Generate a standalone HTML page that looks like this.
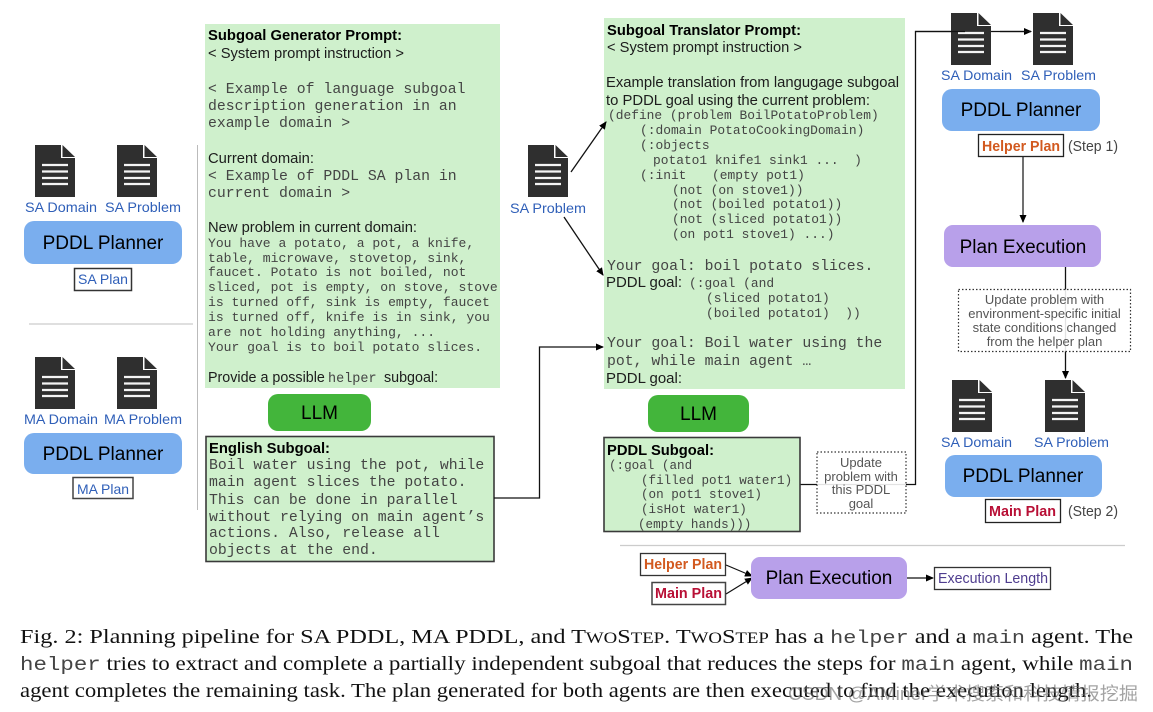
<!DOCTYPE html>
<html>
<head>
<meta charset="utf-8">
<style>
html,body{margin:0;padding:0;background:#fff;width:1153px;height:712px;overflow:hidden}
svg{display:block}
text{font-family:"Liberation Sans",sans-serif;fill:#1c1c1c;white-space:pre}
.m{font-family:"Liberation Mono",monospace;fill:#444}
.m1{font-size:14.8px}
.m2{font-size:12.9px}
.m3{font-size:13.05px}
.m4{font-size:12.6px}
.s{font-size:14.3px}
.b{font-size:14.3px;font-weight:bold;fill:#000}
.l{font-size:14px;fill:#2f5fb8}
.p{font-size:19px;fill:#000;text-anchor:middle}
.u{font-size:13px;fill:#555;text-anchor:middle}
.c{font-family:"Liberation Serif",serif;font-size:20px;fill:#111}
.cm{font-family:"Liberation Mono",monospace;font-size:19.5px;fill:#444}
.cm1{font-family:"Liberation Mono",monospace;font-size:18px;fill:#444}
.sc{font-size:15.5px}
</style>
</head>
<body>
<svg width="1153" height="712" viewBox="0 0 1153 712" xmlns="http://www.w3.org/2000/svg">
<defs>
<symbol id="doc" width="40" height="52" viewBox="0 0 40 52">
<path d="M0 0H26V13H40V52H0Z" fill="#2f2f2f"/>
<path d="M27.5 0L40 12H27.5Z" fill="#2f2f2f"/>
<path d="M7 20H33M7 26.500H33M7 33H33M7 39H33" stroke="#f4f4f4" stroke-width="2.200" fill="none"/>
</symbol>
<marker id="a" markerWidth="9" markerHeight="8" refX="7" refY="4" orient="auto" markerUnits="userSpaceOnUse"><path d="M0 0.500L8 4L0 7.500Z" fill="#000"/></marker>
</defs>

<!-- left column -->
<use href="#doc" x="35" y="145"/><use href="#doc" x="117" y="145"/>
<text class="l" x="25" y="212" textLength="72" lengthAdjust="spacingAndGlyphs">SA Domain</text>
<text class="l" x="105" y="212" textLength="76" lengthAdjust="spacingAndGlyphs">SA Problem</text>
<rect x="24" y="221" width="158" height="43" rx="10" fill="#7aaeee"/>
<text class="p" x="103" y="249">PDDL Planner</text>
<rect x="74.500" y="268.500" width="57" height="22" fill="#fff" stroke="#333" stroke-width="1.500"/>
<text class="l" x="78" y="284" textLength="50" lengthAdjust="spacingAndGlyphs">SA Plan</text>
<line x1="29" y1="324" x2="193" y2="324" stroke="#ccc" stroke-width="1.300"/>
<line x1="197.500" y1="145" x2="197.500" y2="510" stroke="#bbb" stroke-width="1"/>
<use href="#doc" x="35" y="357"/><use href="#doc" x="117" y="357"/>
<text class="l" x="24" y="424" textLength="74" lengthAdjust="spacingAndGlyphs">MA Domain</text>
<text class="l" x="104" y="424" textLength="78" lengthAdjust="spacingAndGlyphs">MA Problem</text>
<rect x="24" y="433" width="158" height="41" rx="10" fill="#7aaeee"/>
<text class="p" x="103" y="460">PDDL Planner</text>
<rect x="73" y="477.500" width="60" height="21" fill="#fff" stroke="#444" stroke-width="1.500"/>
<text class="l" x="77" y="494" textLength="52" lengthAdjust="spacingAndGlyphs">MA Plan</text>

<!-- generator prompt -->
<rect x="205" y="24" width="295" height="364" fill="#cff0cc"/>
<text class="b" x="208" y="40" textLength="194" lengthAdjust="spacingAndGlyphs">Subgoal Generator Prompt:</text>
<text class="s" x="208" y="58" textLength="196" lengthAdjust="spacingAndGlyphs">&lt; System prompt instruction &gt;</text>
<text class="m m1" x="208" y="93">&lt; Example of language subgoal</text>
<text class="m m1" x="208" y="110">description generation in an</text>
<text class="m m1" x="208" y="127">example domain &gt;</text>
<text class="s" x="208" y="163" textLength="106" lengthAdjust="spacingAndGlyphs">Current domain:</text>
<text class="m m1" x="208" y="180">&lt; Example of PDDL SA plan in</text>
<text class="m m1" x="208" y="197">current domain &gt;</text>
<text class="s" x="208" y="232" textLength="209" lengthAdjust="spacingAndGlyphs">New problem in current domain:</text>
<text class="m m3" x="208" y="247">You have a potato, a pot, a knife,</text>
<text class="m m3" x="208" y="262">table, microwave, stovetop, sink,</text>
<text class="m m3" x="208" y="276">faucet. Potato is not boiled, not</text>
<text class="m m3" x="208" y="291">sliced, pot is empty, on stove, stove</text>
<text class="m m3" x="208" y="306">is turned off, sink is empty, faucet</text>
<text class="m m3" x="208" y="321">is turned off, knife is in sink, you</text>
<text class="m m3" x="208" y="336">are not holding anything, ...</text>
<text class="m m3" x="208" y="351">Your goal is to boil potato slices.</text>
<text class="s" x="208" y="382">Provide a possible</text>
<text class="m" font-size="13.500" x="328" y="382">helper</text>
<text class="s" x="384" y="382">subgoal:</text>

<rect x="268" y="394" width="103" height="37" rx="10" fill="#43b53b"/>
<text class="p" x="319.500" y="419">LLM</text>

<rect x="206" y="436.500" width="288" height="125" fill="#cff0cc" stroke="#3a3a3a" stroke-width="1.600"/>
<text class="b" x="209" y="453" textLength="121" lengthAdjust="spacingAndGlyphs">English Subgoal:</text>
<text class="m m1" x="209" y="469">Boil water using the pot, while</text>
<text class="m m1" x="209" y="486">main agent slices the potato.</text>
<text class="m m1" x="209" y="504">This can be done in parallel</text>
<text class="m m1" x="209" y="521">without relying on main agent’s</text>
<text class="m m1" x="209" y="537">actions. Also, release all</text>
<text class="m m1" x="209" y="554">objects at the end.</text>

<path d="M494 498H539.500V347H603" fill="none" stroke="#111" stroke-width="1.300" marker-end="url(#a)"/>

<!-- SA problem -->
<use href="#doc" x="528" y="145"/>
<text class="l" x="510" y="213" textLength="76" lengthAdjust="spacingAndGlyphs">SA Problem</text>

<!-- translator prompt -->
<rect x="604" y="18" width="301" height="371" fill="#cff0cc"/>
<line x1="571" y1="172" x2="606" y2="122" stroke="#111" stroke-width="1.300" marker-end="url(#a)"/>
<line x1="564" y1="217" x2="603" y2="275" stroke="#111" stroke-width="1.300" marker-end="url(#a)"/>
<text class="b" x="607" y="35" textLength="194" lengthAdjust="spacingAndGlyphs">Subgoal Translator Prompt:</text>
<text class="s" x="607" y="52" textLength="195" lengthAdjust="spacingAndGlyphs">&lt; System prompt instruction &gt;</text>
<text class="s" x="606" y="87" textLength="293" lengthAdjust="spacingAndGlyphs">Example translation from langugage subgoal</text>
<text class="s" x="606" y="105" textLength="264" lengthAdjust="spacingAndGlyphs">to PDDL goal using the current problem:</text>
<text class="m m2" x="608" y="119">(define (problem BoilPotatoProblem)</text>
<text class="m m2" x="640" y="134">(:domain PotatoCookingDomain)</text>
<text class="m m2" x="640" y="149">(:objects</text>
<text class="m m2" x="653" y="164">potato1 knife1 sink1 ...  )</text>
<text class="m m2" x="640" y="179">(:init   </text>
<text class="m m2" x="712" y="179">(empty pot1)</text>
<text class="m m2" x="672" y="194">(not (on stove1))</text>
<text class="m m2" x="672" y="208">(not (boiled potato1))</text>
<text class="m m2" x="672" y="223">(not (sliced potato1))</text>
<text class="m m2" x="672" y="238">(on pot1 stove1) ...)</text>
<text class="m m1" x="607" y="270">Your goal: boil potato slices.</text>
<text class="s" x="606" y="287" textLength="76" lengthAdjust="spacingAndGlyphs">PDDL goal:</text>
<text class="m m2" x="689" y="287">(:goal (and</text>
<text class="m m2" x="706" y="302">(sliced potato1)</text>
<text class="m m2" x="706" y="317">(boiled potato1)  ))</text>
<text class="m m1" x="607" y="347">Your goal: Boil water using the</text>
<text class="m m1" x="607" y="365">pot, while main agent …</text>
<text class="s" x="606" y="383" textLength="76" lengthAdjust="spacingAndGlyphs">PDDL goal:</text>

<rect x="648" y="395" width="101" height="37" rx="10" fill="#43b53b"/>
<text class="p" x="698.500" y="420">LLM</text>

<path d="M800 484.500H915.500V31.500H1031" fill="none" stroke="#111" stroke-width="1.300" marker-end="url(#a)"/>

<rect x="604" y="437.500" width="196" height="94" fill="#cff0cc" stroke="#3a3a3a" stroke-width="1.600"/>
<text class="b" x="607" y="455" textLength="107" lengthAdjust="spacingAndGlyphs">PDDL Subgoal:</text>
<text class="m m4" x="609" y="469">(:goal (and</text>
<text class="m m4" x="641" y="484">(filled pot1 water1)</text>
<text class="m m4" x="641" y="498">(on pot1 stove1)</text>
<text class="m m4" x="641" y="513">(isHot water1)</text>
<text class="m m4" x="638" y="528">(empty hands)))</text>

<rect x="817" y="452" width="89" height="61" fill="#fff" fill-opacity="0.880" stroke="#333" stroke-width="1.200" stroke-dasharray="1.500 2"/>
<text class="u" x="861" y="467">Update</text>
<text class="u" x="861" y="481">problem with</text>
<text class="u" x="861" y="494">this PDDL</text>
<text class="u" x="861" y="508">goal</text>

<!-- right column top -->
<use href="#doc" x="951" y="13"/>
<line x1="915" y1="31.500" x2="965" y2="31.500" stroke="#111" stroke-width="1.300"/>
<line x1="1000" y1="31.500" x2="1031" y2="31.500" stroke="#111" stroke-width="1.300"/>
<use href="#doc" x="1033" y="13"/>
<text class="l" x="941" y="80" textLength="71" lengthAdjust="spacingAndGlyphs">SA Domain</text>
<text class="l" x="1021" y="80" textLength="75" lengthAdjust="spacingAndGlyphs">SA Problem</text>
<rect x="942" y="89" width="158" height="42" rx="10" fill="#7aaeee"/>
<text class="p" x="1021" y="116">PDDL Planner</text>
<rect x="978.500" y="134.500" width="85" height="22" fill="#fff" stroke="#222" stroke-width="1.300"/>
<text class="b" x="982" y="151" style="fill:#d2591f" font-size="14" textLength="78" lengthAdjust="spacingAndGlyphs">Helper Plan</text>
<text class="s" x="1068" y="151" textLength="50" lengthAdjust="spacingAndGlyphs" style="fill:#444">(Step 1)</text>
<line x1="1023" y1="157" x2="1023" y2="222" stroke="#222" stroke-width="1.300" marker-end="url(#a)"/>
<rect x="944" y="225" width="157" height="42" rx="9" fill="#b8a0ea"/>
<text class="p" x="1023" y="253">Plan Execution</text>

<line x1="1065.500" y1="267" x2="1065.500" y2="378" stroke="#111" stroke-width="1.300" marker-end="url(#a)"/>
<rect x="958.500" y="289.500" width="172" height="62" fill="#fff" fill-opacity="0.880" stroke="#333" stroke-width="1.200" stroke-dasharray="1.500 2"/>
<text class="u" x="1044.500" y="304">Update problem with</text>
<text class="u" x="1044.500" y="318">environment-specific initial</text>
<text class="u" x="1044.500" y="332">state conditions changed</text>
<text class="u" x="1044.500" y="346">from the helper plan</text>

<!-- right column bottom -->
<use href="#doc" x="952" y="380"/><use href="#doc" x="1045" y="380"/>
<text class="l" x="941" y="447" textLength="71" lengthAdjust="spacingAndGlyphs">SA Domain</text>
<text class="l" x="1034" y="447" textLength="75" lengthAdjust="spacingAndGlyphs">SA Problem</text>
<rect x="945" y="455" width="157" height="42" rx="10" fill="#7aaeee"/>
<text class="p" x="1023" y="482">PDDL Planner</text>
<rect x="985.500" y="499.500" width="75" height="23" fill="#fff" stroke="#222" stroke-width="1.300"/>
<text class="b" x="989" y="516" style="fill:#b80f35" font-size="14" textLength="67" lengthAdjust="spacingAndGlyphs">Main Plan</text>
<text class="s" x="1068" y="516" textLength="50" lengthAdjust="spacingAndGlyphs" style="fill:#444">(Step 2)</text>

<!-- bottom row -->
<line x1="620" y1="545.500" x2="1125" y2="545.500" stroke="#ccc" stroke-width="1.300"/>
<rect x="640.500" y="553.500" width="85" height="22" fill="#fff" stroke="#333" stroke-width="1.300"/>
<text class="b" x="644" y="569" style="fill:#d2591f" textLength="78" lengthAdjust="spacingAndGlyphs">Helper Plan</text>
<rect x="652" y="582.500" width="73.500" height="22" fill="#fff" stroke="#444" stroke-width="1.500"/>
<text class="b" x="655" y="598" style="fill:#b80f35" textLength="67" lengthAdjust="spacingAndGlyphs">Main Plan</text>
<line x1="726" y1="565" x2="752" y2="576" stroke="#111" stroke-width="1.200" marker-end="url(#a)"/>
<line x1="726" y1="594" x2="752" y2="578" stroke="#111" stroke-width="1.200" marker-end="url(#a)"/>
<rect x="751" y="557" width="156" height="42" rx="9" fill="#b8a0ea"/>
<text class="p" x="829" y="584">Plan Execution</text>
<line x1="907" y1="578" x2="933" y2="578" stroke="#111" stroke-width="1.300" marker-end="url(#a)"/>
<rect x="934.500" y="567.500" width="116" height="22" fill="#fff" stroke="#333" stroke-width="1.300"/>
<text class="s" x="938" y="583" style="fill:#4f3d8f" textLength="110" lengthAdjust="spacingAndGlyphs">Execution Length</text>

<!-- caption -->
<text class="c" x="20" y="643" textLength="1113" lengthAdjust="spacingAndGlyphs">Fig. 2: Planning pipeline for SA PDDL, MA PDDL, and T<tspan class="sc">WO</tspan>S<tspan class="sc">TEP</tspan>. T<tspan class="sc">WO</tspan>S<tspan class="sc">TEP</tspan> has a <tspan class="cm1">helper</tspan> and a <tspan class="cm1">main</tspan> agent. The</text>
<text class="c" x="20" y="670" textLength="1113" lengthAdjust="spacingAndGlyphs"><tspan class="cm">helper</tspan> tries to extract and complete a partially independent subgoal that reduces the steps for <tspan class="cm">main</tspan> agent, while <tspan class="cm">main</tspan></text>
<text class="c" x="20" y="697" textLength="1072" lengthAdjust="spacingAndGlyphs">agent completes the remaining task. The plan generated for both agents are then executed to find the execution length.</text>
<text x="788" y="700" font-size="18" style="font-family:'Liberation Sans','Noto Sans CJK SC',sans-serif;fill:#666;fill-opacity:.6" textLength="350" lengthAdjust="spacingAndGlyphs">CSDN @AMiner学术搜索和科技情报挖掘</text>
</svg>
</body>
</html>
